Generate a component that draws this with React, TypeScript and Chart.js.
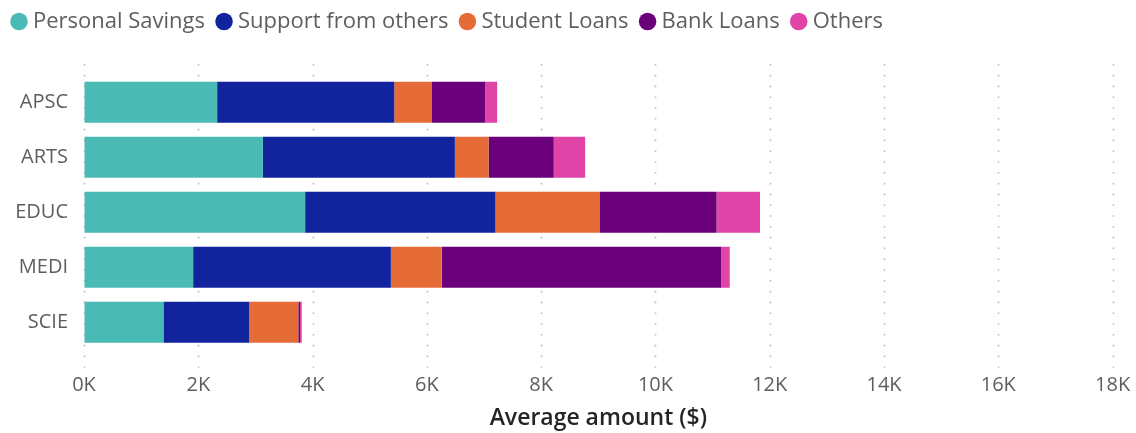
import React, { useEffect, useRef } from "react";
import { Chart, registerables } from "chart.js";

Chart.register(...registerables);

const categories = ["APSC", "ARTS", "EDUC", "MEDI", "SCIE"];
const seriesNames = ["Personal Savings", "Support from others", "Student Loans", "Bank Loans", "Others"];
const personalSavings = [2330, 3130, 3870, 1910, 1390];
const supportFromOthers = [3100, 3360, 3330, 3460, 1500];
const studentLoans = [650, 590, 1830, 890, 860];
const bankLoans = [940, 1140, 2040, 4890, 30];
const others = [210, 550, 760, 150, 30];
const seriesColors = ["#4ABBB4", "#12239E", "#E66C37", "#6B007B", "#E044A7"];
const xTickStep = 2000;
const xMax = 18000;
const xTitle = "Average amount ($)";

const FONT = "'Open Sans', 'Noto Sans', sans-serif";

const dottedGrid = {
  id: "dottedGrid",
  beforeDatasetsDraw(chart: any) {
    const { ctx, chartArea, scales } = chart;
    const xs = scales.x;
    ctx.save();
    ctx.strokeStyle = "#BDBDBD";
    ctx.lineWidth = 1.6;
    ctx.setLineDash([1.6, 9.2]);
    xs.ticks.forEach((_t: any, i: number) => {
      const x = Math.round(xs.getPixelForTick(i)) + 0.5;
      ctx.beginPath();
      ctx.moveTo(x, chartArea.top - 10.7);
      ctx.lineTo(x, chartArea.bottom + 18);
      ctx.stroke();
    });
    ctx.restore();
  },
};

const legendHeight = {
  id: "legendHeight",
  beforeInit(chart: any) {
    const legend = chart.legend;
    if (!legend) return;
    const orig = legend.fit;
    legend.fit = function () {
      orig.call(this);
      this.height = 80.2;
    };
  },
};

export default function App() {
  const ref = useRef<HTMLCanvasElement | null>(null);
  useEffect(() => {
    if (!ref.current) return;
    const values = [personalSavings, supportFromOthers, studentLoans, bankLoans, others];
    const chart = new Chart(ref.current, {
      type: "bar",
      data: {
        labels: categories,
        datasets: seriesNames.map((name, i) => ({
          label: name,
          data: values[i],
          backgroundColor: seriesColors[i],
          borderWidth: 0,
          barPercentage: 0.745,
          categoryPercentage: 1,
        })),
      },
      plugins: [legendHeight, dottedGrid],
      options: {
        indexAxis: "y",
        animation: false,
        responsive: true,
        maintainAspectRatio: false,
        layout: { padding: { top: -5.5, left: 0, right: 23.4, bottom: 0 } },
        plugins: {
          tooltip: { enabled: false },
          legend: {
            position: "top",
            align: "start",
            labels: {
              usePointStyle: true,
              pointStyle: "circle",
              boxWidth: 6,
              boxHeight: 12.4,
              padding: 16,
              color: "#605E5C",
              font: { family: FONT, size: 22 },
            },
          },
        },
        scales: {
          x: {
            stacked: true,
            min: 0,
            max: xMax,
            border: { display: false },
            grid: {
              display: true,
              drawOnChartArea: false,
              drawTicks: true,
              tickLength: 24,
              color: "rgba(0,0,0,0)",
              tickColor: "rgba(0,0,0,0)",
            },
            ticks: {
              stepSize: xTickStep,
              padding: 0,
              color: "#605E5C",
              font: { family: FONT, size: 20 },
              callback: (v: any) => `${Number(v) / 1000}K`,
            },
            title: {
              display: true,
              text: xTitle,
              color: "#252423",
              font: { family: FONT, size: 23, weight: "600" },
              padding: { top: 0, bottom: 1 },
            },
            afterFit: (s: any) => {
              s.height = 83.3;
            },
          },
          y: {
            stacked: true,
            border: { display: false },
            grid: { display: false, drawTicks: false },
            ticks: {
              padding: 16,
              color: "#605E5C",
              font: { family: FONT, size: 20 },
            },
            afterFit: (s: any) => {
              s.width = 84;
            },
          },
        },
      },
    });
    return () => chart.destroy();
  }, []);
  return (
    <div style={{ position: "fixed", left: 0, top: 0, width: 1136, height: 433 }}>
      <canvas ref={ref} />
    </div>
  );
}
